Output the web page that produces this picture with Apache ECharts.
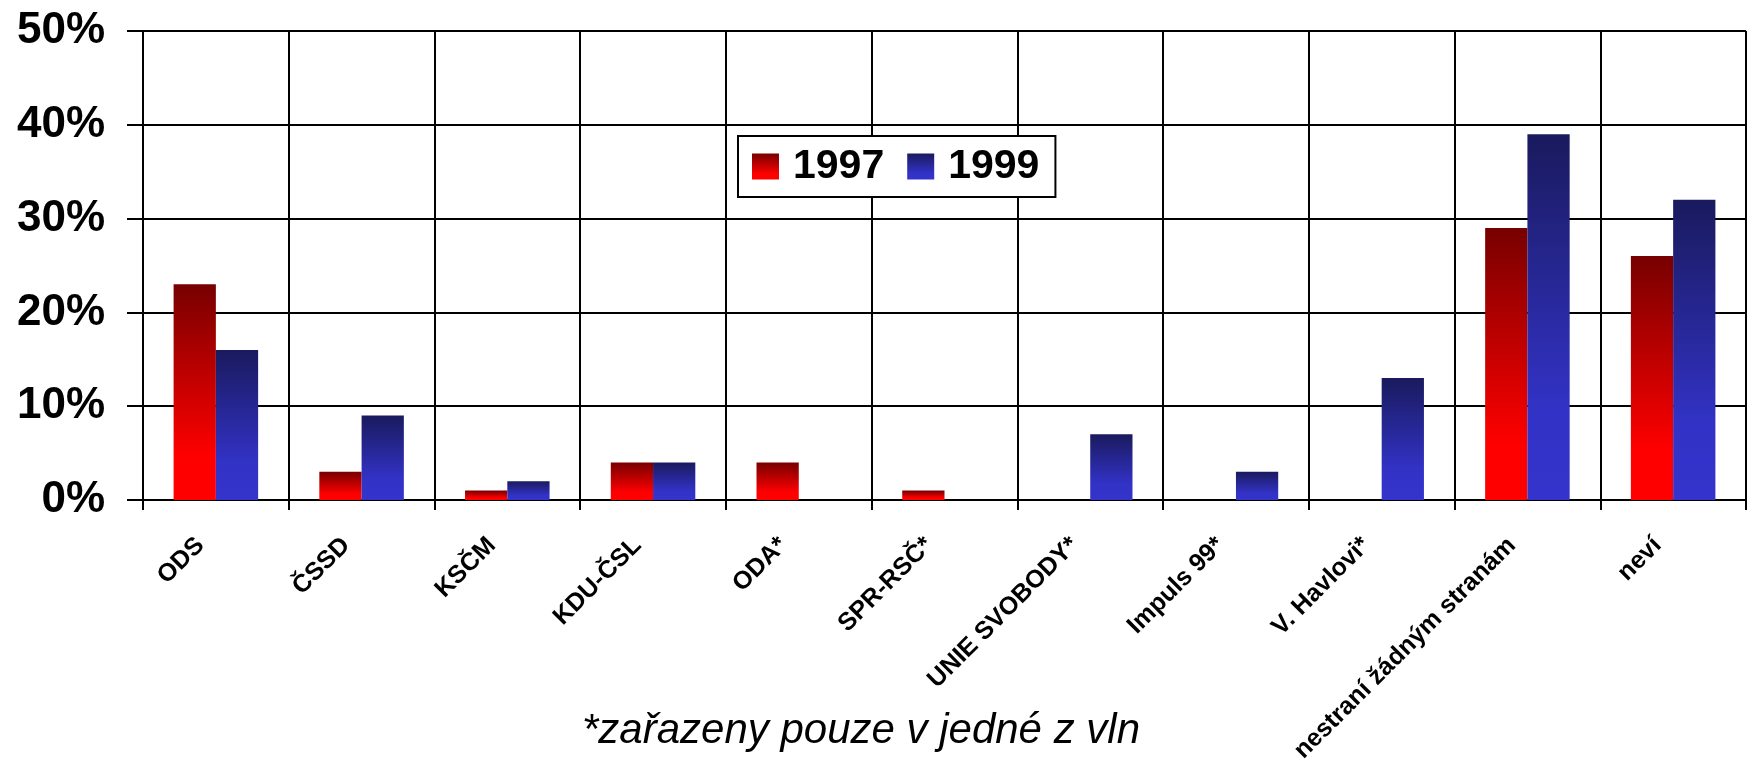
<!DOCTYPE html>
<html>
<head>
<meta charset="utf-8">
<script src="https://cdn.jsdelivr.net/npm/echarts@6/dist/echarts.min.js"></script>
<style>
html,body{margin:0;padding:0;background:#fff;}
#chart{width:1752px;height:769px;}
</style>
</head>
<body>
<div id="chart"></div>
<script>
const categories = ['ODS', 'ČSSD', 'KSČM', 'KDU-ČSL', 'ODA*', 'SPR-RSČ*', 'UNIE SVOBODY*', 'Impuls 99*', 'V. Havlovi*', 'nestraní žádným stranám', 'neví'];
const values1997 = [23, 3, 1, 4, 4, 1, null, null, null, 29, 26];
const values1999 = [16, 9, 2, 4, null, null, 7, 3, 13, 39, 32];
const seriesNames = ['1997', '1999'];
const yTicks = { min: 0, max: 50, interval: 10 };
const footnote = '*zařazeny pouze v jedné z vln';

const FONT = "'Liberation Sans', Arial, sans-serif";
const chart = echarts.init(document.getElementById('chart'), null, { renderer: 'canvas' });

const redGrad = new echarts.graphic.LinearGradient(0, 0, 0, 1, [
  { offset: 0, color: '#770000' },
  { offset: 0.8, color: '#ff0000' },
  { offset: 1, color: '#ff0000' }
]);
const blueGrad = new echarts.graphic.LinearGradient(0, 0, 0, 1, [
  { offset: 0, color: '#1a1a5e' },
  { offset: 0.75, color: '#3232c6' },
  { offset: 1, color: '#3434cc' }
]);

chart.setOption({
  animation: false,
  backgroundColor: '#ffffff',
  grid: { left: 143, right: 6, top: 31, bottom: 269, containLabel: false },
  legend: {
    left: 738, top: 136,
    orient: 'horizontal',
    itemWidth: 27, itemHeight: 26, itemGap: 23,
    padding: [10, 16, 10, 14],
    borderColor: '#000', borderWidth: 2,
    backgroundColor: '#fff',
    icon: 'rect',
    textStyle: { fontFamily: FONT, fontWeight: 'bold', fontSize: 41, color: '#000', padding: [4, 0, 0, 9] },
    data: seriesNames
  },
  xAxis: {
    type: 'category',
    data: categories,
    boundaryGap: true,
    axisLine: { show: true, lineStyle: { color: '#000', width: 2 } },
    axisTick: { show: true, length: 10, lineStyle: { color: '#000', width: 2 } },
    splitLine: { show: true, lineStyle: { color: '#000', width: 2 } },
    axisLabel: {
      interval: 0, rotate: 45, margin: 26,
      fontFamily: FONT, fontWeight: 'bold', fontSize: 25, color: '#000',
      padding: [0, 22, 0, 0]
    }
  },
  yAxis: {
    type: 'value',
    min: yTicks.min, max: yTicks.max, interval: yTicks.interval,
    axisLine: { show: true, lineStyle: { color: '#000', width: 2 } },
    axisTick: { show: true, length: 16, lineStyle: { color: '#000', width: 2 } },
    splitLine: { show: true, lineStyle: { color: '#000', width: 2 } },
    axisLabel: {
      formatter: '{value}%', margin: 38,
      fontFamily: FONT, fontWeight: 'bold', fontSize: 44, color: '#000'
    }
  },
  series: [
    { name: seriesNames[0], type: 'bar', data: values1997, barGap: '0%', barCategoryGap: '42%', itemStyle: { color: redGrad } },
    { name: seriesNames[1], type: 'bar', data: values1999, barGap: '0%', barCategoryGap: '42%', itemStyle: { color: blueGrad } }
  ],
  graphic: [{
    type: 'text', left: 582, top: 710,
    style: { text: footnote, font: 'italic 42px ' + FONT, fill: '#000' }
  }]
});
</script>
</body>
</html>
